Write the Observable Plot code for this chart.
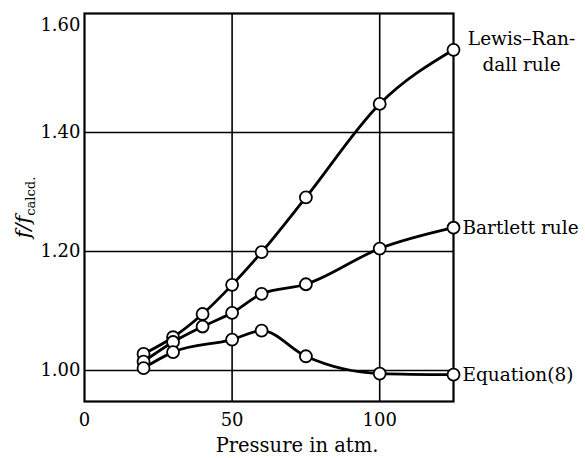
<!DOCTYPE html>
<html><head><meta charset="utf-8">
<script src="https://cdn.jsdelivr.net/npm/d3@7"></script>
<script src="https://cdn.jsdelivr.net/npm/@observablehq/plot@0.6"></script>
<style>body{margin:0;background:#fff} svg{display:block}</style>
</head><body><div id="chart"></div>
<script>
const pressureLR = [20, 30, 40, 50, 60, 75, 100, 125];
const lewisRandall = [1.028, 1.056, 1.095, 1.144, 1.199, 1.291, 1.448, 1.539];
const pressureB = [20, 30, 40, 50, 60, 75, 100, 125];
const bartlett = [1.015, 1.048, 1.074, 1.097, 1.129, 1.145, 1.205, 1.240];
const pressureEq = [20, 30, 50, 60, 75, 100, 125];
const equation8 = [1.004, 1.031, 1.052, 1.067, 1.024, 0.995, 0.993];
const seriesLabels = ["Lewis–Ran-\ndall rule", "Bartlett rule", "Equation(8)"];
const xTicks = [0, 50, 100];
const yTicks = [1.00, 1.20, 1.40];
const yTopTick = [1.60];
const xGrid = [50, 100];
const yGrid = [1.00, 1.20, 1.40];
const xTitle = "Pressure in atm.";
const yTitle = "f/fcalcd.";

const seriesX = [pressureLR, pressureB, pressureEq];
const seriesY = [lewisRandall, bartlett, equation8];
const rows = seriesX.flatMap((xs, i) => xs.map((p, j) => ({series: i, p, v: seriesY[i][j]})));
const lastPts = seriesX.map((xs, i) => ({series: i, p: xs[xs.length - 1], v: seriesY[i][xs.length - 1], label: seriesLabels[i]}));

const chart = Plot.plot({
  width: 585, height: 458,
  marginLeft: 84, marginRight: 132, marginTop: 13, marginBottom: 57,
  style: {fontFamily: "'DejaVu Serif', serif", fontSize: "18px", color: "black", background: "white"},
  x: {domain: [0, 125]},
  y: {domain: [0.948, 1.60]},
  marks: [
    Plot.ruleX(xGrid, {stroke: "black", strokeWidth: 1.6}),
    Plot.ruleY(yGrid, {stroke: "black", strokeWidth: 1.6}),
    Plot.frame({stroke: "black", strokeWidth: 2.2}),
    Plot.line(rows, {x: "p", y: "v", z: "series", curve: "monotone-x", stroke: "black", strokeWidth: 2.8}),
    Plot.dot(rows, {x: "p", y: "v", r: 6, fill: "white", stroke: "black", strokeWidth: 1.8}),
    Plot.text(lastPts.filter(d => d.series === 0), {x: "p", y: "v", text: "label", textAnchor: "middle", dx: 68, lineHeight: 1.4, fill: "black", fontSize: 18.5}),
    Plot.text(lastPts.filter(d => d.series !== 0), {x: "p", y: "v", text: "label", textAnchor: "start", dx: 9, fill: "black", fontSize: 18.5}),
    Plot.axisX(xTicks, {tickSize: 0, tickPadding: 12, label: null, fontSize: 18}),
    Plot.axisY(yTicks, {tickSize: 0, tickPadding: 4, tickFormat: d3.format(".2f"), label: null, fontSize: 18}),
    Plot.axisY(yTopTick, {tickSize: 0, tickPadding: 4, dy: 12, tickFormat: d3.format(".2f"), label: null, fontSize: 18}),
    Plot.text([xTitle], {frameAnchor: "bottom", textAnchor: "middle", lineAnchor: "middle", dy: 44, dx: 28, text: d => d, fill: "black", fontSize: 19.5}),
    Plot.text([yTitle], {frameAnchor: "left", textAnchor: "middle", lineAnchor: "middle", dx: -60, rotate: -90, text: d => d, fill: "black"})
  ]
});
document.getElementById("chart").appendChild(chart);

d3.select(chart).selectAll("text").filter(function() { return this.textContent === yTitle; })
  .each(function() {
    const t = d3.select(this);
    t.text(null);
    t.append("tspan").attr("font-style", "italic").attr("font-size", "21px").text("f/f");
    t.append("tspan").attr("font-size", "13px").attr("dy", "5").text("calcd.");
  });
</script>
</body></html>
